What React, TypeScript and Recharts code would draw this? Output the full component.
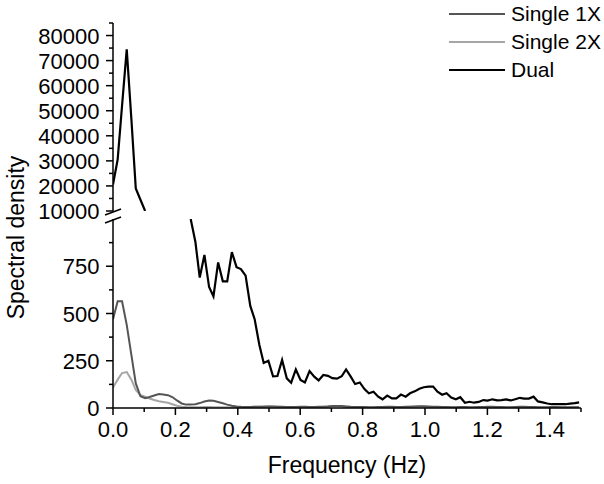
import React from 'react';
import { LineChart, Line, XAxis, YAxis, Label } from 'recharts';

// ---- data ----
const FREQ = [
  0, 0.015, 0.029, 0.044, 0.059, 0.073, 0.088, 0.103, 0.117, 0.132,
  0.147, 0.161, 0.176, 0.19, 0.205, 0.22, 0.234, 0.249, 0.264, 0.278,
  0.293, 0.308, 0.322, 0.337, 0.352, 0.366, 0.381, 0.396, 0.41, 0.425,
  0.44, 0.454, 0.469, 0.483, 0.498, 0.513, 0.527, 0.542, 0.557, 0.571,
  0.586, 0.601, 0.615, 0.63, 0.645, 0.659, 0.674, 0.689, 0.703, 0.718,
  0.733, 0.747, 0.762, 0.776, 0.791, 0.806, 0.82, 0.835, 0.85, 0.864,
  0.879, 0.894, 0.908, 0.923, 0.938, 0.952, 0.967, 0.982, 0.996, 1.011,
  1.026, 1.04, 1.055, 1.069, 1.084, 1.099, 1.113, 1.128, 1.143, 1.157,
  1.172, 1.187, 1.201, 1.216, 1.231, 1.245, 1.26, 1.275, 1.289, 1.304,
  1.318, 1.333, 1.348, 1.362, 1.377, 1.392, 1.406, 1.421, 1.436, 1.45,
  1.465, 1.48, 1.494,
];

const SINGLE_1X = [
  470, 565, 565, 440, 280, 130, 62, 52, 58, 66,
  74, 72, 68, 58, 40, 24, 18, 18, 20, 26,
  34, 40, 38, 32, 25, 18, 12, 8, 6, 5,
  5, 6, 6, 7, 8, 8, 7, 6, 5, 5,
  5, 6, 6, 5, 5, 6, 7, 8, 10, 11,
  10, 8, 6, 5, 5, 5, 4, 4, 5, 5,
  6, 6, 5, 5, 6, 7, 8, 9, 9, 8,
  7, 6, 5, 5, 4, 4, 5, 5, 4, 4,
  5, 5, 6, 6, 5, 5, 4, 4, 5, 6,
  6, 5, 5, 4, 4, 4, 5, 5, 4, 4,
  4, 4, 4,
];

const SINGLE_2X = [
  108, 150, 185, 190, 150, 95, 68, 60, 50, 42,
  36, 32, 28, 20, 12, 7, 5, 4, 4, 4,
  5, 5, 4, 4, 4, 4, 3, 3, 4, 4,
  5, 6, 7, 8, 8, 7, 6, 5, 4, 4,
  4, 5, 5, 4, 4, 5, 6, 8, 10, 11,
  9, 7, 5, 4, 4, 4, 3, 3, 4, 4,
  5, 5, 4, 4, 5, 6, 7, 7, 6, 5,
  5, 4, 4, 4, 3, 3, 4, 4, 3, 3,
  4, 4, 5, 5, 4, 4, 3, 3, 4, 5,
  5, 4, 4, 3, 3, 3, 4, 4, 3, 3,
  3, 3, 3,
];

const DUAL = [
  20600, 30600, 52000, 74500, 46500, 19000, 14500, 10000, null, null,
  null, null, null, null, null, null, null, 1000, 880, 690,
  810, 640, 590, 770, 670, 670, 825, 745, 735, 700,
  540, 470, 335, 238, 250, 168, 169, 254, 157, 134,
  204, 148, 135, 195, 166, 146, 175, 170, 158, 155,
  168, 204, 166, 127, 135, 100, 78, 86, 60, 46,
  66, 51, 51, 71, 60, 78, 88, 102, 110, 113,
  113, 86, 70, 78, 55, 46, 57, 28, 33, 28,
  32, 42, 39, 46, 40, 42, 46, 40, 46, 54,
  50, 50, 60, 35, 30, 24, 20, 20, 20, 20,
  23, 26, 30,
];

const X_TICKS = [0, 0.1, 0.2, 0.3, 0.4, 0.5, 0.6, 0.7, 0.8, 0.9, 1.0, 1.1, 1.2, 1.3, 1.4, 1.5];
const UPPER_TICKS = [10000, 15000, 20000, 25000, 30000, 35000, 40000, 45000, 50000, 55000, 60000, 65000, 70000, 75000, 80000, 85000];
const LOWER_TICKS = [0, 125, 250, 375, 500, 625, 750, 875];

const SERIES_NAMES = ['Single 1X', 'Single 2X', 'Dual'];
const SERIES_COLORS = ['#555555', '#a6a6a6', '#000000'];

const rows = FREQ.map((f, i) => ({ f, s1: SINGLE_1X[i], s2: SINGLE_2X[i], dual: DUAL[i] }));

// ---- layout ----
const W = 604;
const H = 484;
const PLOT_LEFT = 113;
const PLOT_RIGHT = 581;
const UPPER_TOP = 23;
const UPPER_BOTTOM = 211;
const LOWER_TOP = 219;
const LOWER_BOTTOM = 408;
const FONT = '"Liberation Sans", Arial, Helvetica, sans-serif';

function XTick(props: any) {
  const { x, y, payload } = props;
  const v = payload.value as number;
  const major = Math.round(v * 10) % 2 === 0;
  return (
    <g>
      <line x1={x} y1={y} x2={x} y2={y + (major ? 7 : 4)} stroke="#000" strokeWidth={1.5} />
      {major && (
        <text x={x} y={y + 29} textAnchor="middle" fontSize={22} fontFamily={FONT} fill="#000">
          {v.toFixed(1)}
        </text>
      )}
    </g>
  );
}

function makeYTick(step: number) {
  return function YTick(props: any) {
    const { x, y, payload } = props;
    const v = payload.value as number;
    const major = v % step === 0;
    return (
      <g>
        <line x1={x - (major ? 7 : 4)} y1={y} x2={x} y2={y} stroke="#000" strokeWidth={1.5} />
        {major && (
          <text x={x - 13.5} y={y + 8} textAnchor="end" fontSize={22} fontFamily={FONT} fill="#000">
            {v}
          </text>
        )}
      </g>
    );
  };
}

const UpperTick = makeYTick(10000);
const LowerTick = makeYTick(250);

export default function App() {
  return (
    <div style={{ position: 'absolute', left: 0, top: 0, width: W, height: H, background: '#fff', fontFamily: FONT }}>
      {/* lower panel */}
      <div style={{ position: 'absolute', left: 0, top: 0 }}>
        <LineChart
          width={W}
          height={H}
          data={rows}
          margin={{ top: LOWER_TOP, right: W - PLOT_RIGHT, bottom: 0, left: 0 }}
        >
          <XAxis
            dataKey="f"
            type="number"
            domain={[0, 1.5]}
            ticks={X_TICKS}
            interval={0}
            height={H - LOWER_BOTTOM}
            tickSize={0}
            tickMargin={0}
            tickLine={false}
            tick={<XTick />}
            axisLine={{ stroke: '#000', strokeWidth: 1.5 }}
            allowDataOverflow
          >
            <Label
              content={() => (
                <text x={(PLOT_LEFT + PLOT_RIGHT) / 2} y={473} textAnchor="middle" fontSize={23} fontFamily={FONT} fill="#000">
                  Frequency (Hz)
                </text>
              )}
            />
          </XAxis>
          <YAxis
            type="number"
            domain={[0, 1000]}
            ticks={LOWER_TICKS}
            interval={0}
            width={PLOT_LEFT}
            tickSize={0}
            tickMargin={0}
            tickLine={false}
            tick={<LowerTick />}
            axisLine={{ stroke: '#000', strokeWidth: 1.5 }}
            allowDataOverflow
          >
            <Label
              content={() => (
                <text
                  transform={`translate(24, ${(UPPER_TOP + LOWER_BOTTOM) / 2 + 22}) rotate(-90)`}
                  textAnchor="middle"
                  fontSize={23}
                  fontFamily={FONT}
                  fill="#000"
                >
                  Spectral density
                </text>
              )}
            />
          </YAxis>
          <Line dataKey="s2" stroke={SERIES_COLORS[1]} strokeWidth={2} dot={false} isAnimationActive={false} />
          <Line dataKey="s1" stroke={SERIES_COLORS[0]} strokeWidth={2} dot={false} isAnimationActive={false} />
          <Line dataKey="dual" stroke={SERIES_COLORS[2]} strokeWidth={2.2} dot={false} isAnimationActive={false} />
        </LineChart>
      </div>

      {/* upper panel */}
      <div style={{ position: 'absolute', left: 0, top: 0 }}>
        <LineChart
          width={W}
          height={H}
          data={rows}
          margin={{ top: UPPER_TOP, right: W - PLOT_RIGHT, bottom: H - UPPER_BOTTOM, left: 0 }}
        >
          <XAxis dataKey="f" type="number" domain={[0, 1.5]} hide allowDataOverflow />
          <YAxis
            type="number"
            domain={[10000, 85000]}
            ticks={UPPER_TICKS}
            interval={0}
            width={PLOT_LEFT}
            tickSize={0}
            tickMargin={0}
            tickLine={false}
            tick={<UpperTick />}
            axisLine={{ stroke: '#000', strokeWidth: 1.5 }}
            allowDataOverflow
          />
          <Line dataKey="dual" stroke={SERIES_COLORS[2]} strokeWidth={2.2} dot={false} isAnimationActive={false} />
        </LineChart>
      </div>

      {/* axis break marks */}
      <svg width={W} height={H} style={{ position: 'absolute', left: 0, top: 0, pointerEvents: 'none' }}>
        <line x1={PLOT_LEFT - 8} y1={UPPER_BOTTOM + 4} x2={PLOT_LEFT + 8} y2={UPPER_BOTTOM - 2} stroke="#000" strokeWidth={1.5} />
        <line x1={PLOT_LEFT - 8} y1={LOWER_TOP + 4} x2={PLOT_LEFT + 8} y2={LOWER_TOP - 2} stroke="#000" strokeWidth={1.5} />
      </svg>

      {/* legend */}
      <div style={{ position: 'absolute', left: 449, top: 0, fontSize: 21, fontFamily: FONT, color: '#000' }}>
        {SERIES_NAMES.map((name, i) => (
          <div key={name} style={{ display: 'flex', alignItems: 'center', height: 28 }}>
            <svg width={56} height={4} style={{ marginRight: 6 }}>
              <line x1={0} y1={2} x2={56} y2={2} stroke={SERIES_COLORS[i]} strokeWidth={2} />
            </svg>
            <span style={{ lineHeight: '28px' }}>{name}</span>
          </div>
        ))}
      </div>
    </div>
  );
}
